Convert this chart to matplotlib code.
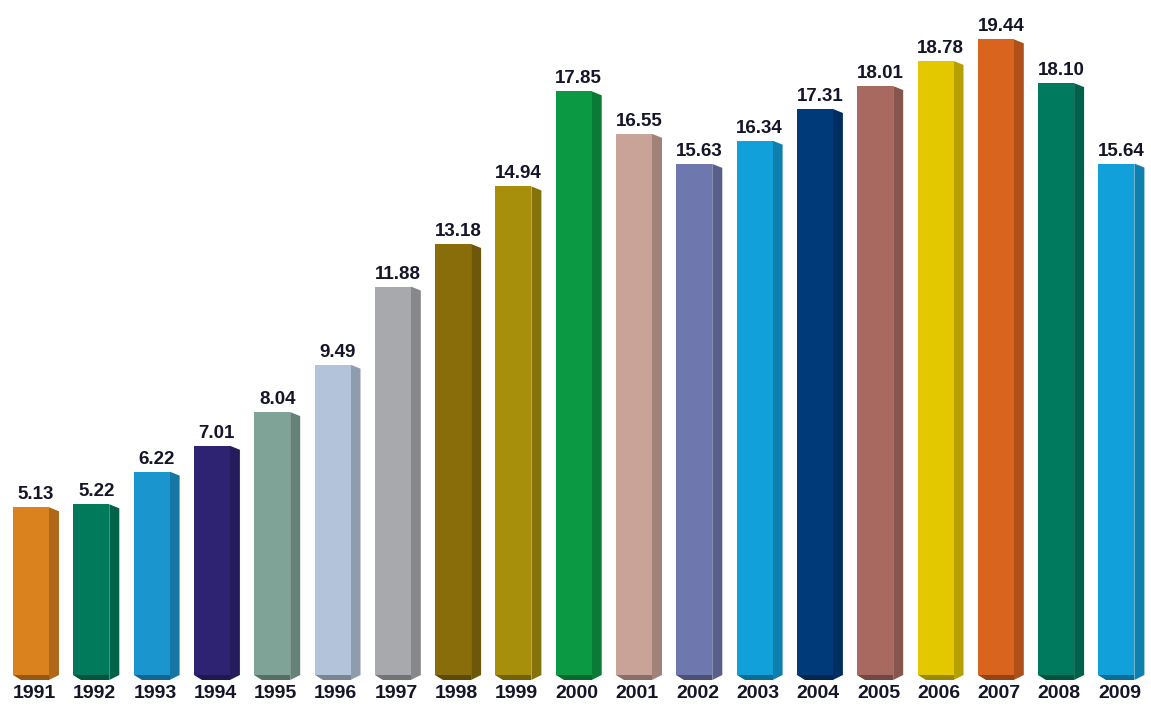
import matplotlib
matplotlib.use("Agg")
import matplotlib.pyplot as plt
import matplotlib.colors as mcolors

years = ["1991", "1992", "1993", "1994", "1995", "1996", "1997", "1998", "1999", "2000",
         "2001", "2002", "2003", "2004", "2005", "2006", "2007", "2008", "2009"]
values = [5.13, 5.22, 6.22, 7.01, 8.04, 9.49, 11.88, 13.18, 14.94, 17.85,
          16.55, 15.63, 16.34, 17.31, 18.01, 18.78, 19.44, 18.10, 15.64]
colors = ["#D9821E", "#007A5A", "#1B95CE", "#2E2373", "#7FA396", "#B3C3D9", "#A7A9AC",
          "#8A6D0B", "#A78F0C", "#0B9A43", "#C9A397", "#6E77AE", "#12A0DA", "#003A78",
          "#A86A60", "#E3C800", "#D9641E", "#007A5E", "#12A0DA"]

W, H = 1151, 709
fig = plt.figure(figsize=(W / 100, H / 100), dpi=100)
ax = fig.add_axes([0, 0, 1, 1])
ax.set_axis_off()

px_x = 60.3     # pixels per category
x0 = 31         # pixel of first front-face center
px_y = 32.7     # pixels per unit
base_from_bottom = 34
ax.set_xlim(-x0 / px_x, (W - x0) / px_x)
ax.set_ylim(-base_from_bottom / px_y, (H - base_from_bottom) / px_y)

w = 36 / px_x    # front width
d = 10 / px_x    # side depth
dy = 4 / px_y    # bevel drop
db = 5 / px_y    # bottom strip

def darker(c, f):
    r, g, b = mcolors.to_rgb(c)
    return (r * f, g * f, b * f)

font = ["Liberation Sans", "DejaVu Sans"]
for i, (v, c) in enumerate(zip(values, colors)):
    left = i - w / 2
    right = i + w / 2
    # side face
    ax.fill([right, right + d, right + d, right], [v, v - dy, 0, -db],
            color=darker(c, 0.8), lw=0, zorder=2)
    # bottom face
    ax.fill([left, right, right, left + d * 0.8], [0, 0, -db, -db],
            color=darker(c, 0.68), lw=0, zorder=2)
    # front face
    ax.fill([left, right, right, left], [0, 0, v, v], color=c, lw=0, zorder=3)
    # value label
    ax.text(i + d / 2, v + 8 / px_y, f"{v:.2f}", ha="center", va="baseline",
            fontsize=13.5, fontweight="bold", family=font,
            color="#15152a", zorder=4)
    # year label
    ax.text(i + d / 3, -18 / px_y, years[i], ha="center", va="center",
            fontsize=14, fontweight="bold", family=font,
            color="#15152a", zorder=4)

fig.savefig("out.png", dpi=100)
